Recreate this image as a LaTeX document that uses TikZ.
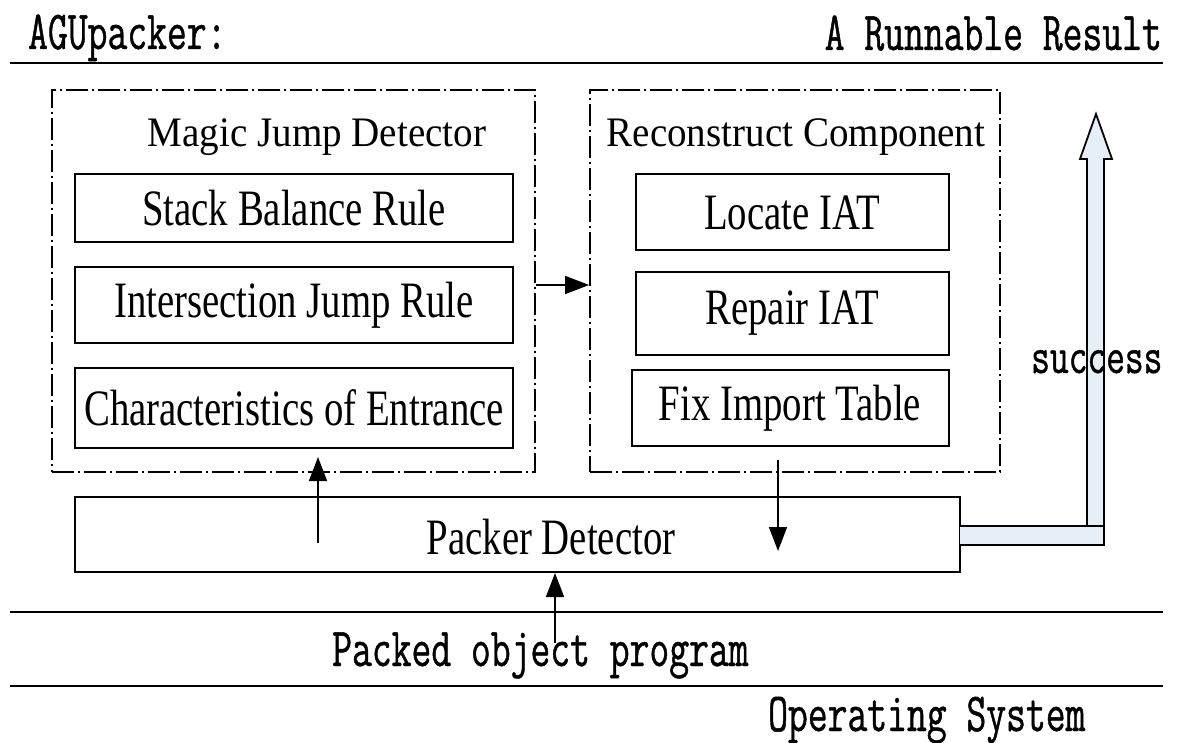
\documentclass[tikz,border=0pt]{standalone}
\usepackage{fontspec}
\usetikzlibrary{arrows.meta}
\setmonofont{Latin Modern Mono}[FakeStretch=0.70,FakeBold=0.8]
\newfontfamily\boxfont[FakeStretch=0.76]{Liberation Serif}
\newfontfamily\titlefont[FakeStretch=0.93]{Liberation Serif}
\definecolor{pipe}{RGB}{230,238,248}

\tikzset{
  rulebox/.style={draw, line width=2pt, inner sep=0pt,
    font=\boxfont\fontsize{51}{51}\selectfont},
  groupbox/.style={draw, line width=1.8pt,
    dash pattern=on 22pt off 4pt on 2pt off 4pt, inner sep=0pt},
  grouptitle/.style={font=\titlefont\fontsize{42}{42}\selectfont,
    inner sep=0pt, anchor=base},
  layertext/.style={font=\ttfamily\fontsize{55}{55}\selectfont, inner sep=0pt},
  layerline/.style={line width=2.6pt},
  flow/.style={line width=1.6pt, -{Triangle[length=24pt,width=18pt]}},
}

\begin{document}
\begin{tikzpicture}[x=1pt,y=-1pt]
\useasboundingbox (0,0) rectangle (1181,743);

% layer separators
\draw[layerline] (10,63) -- (1163,63);
\draw[layerline] (10,612) -- (1163,612);
\draw[layerline] (10,686) -- (1163,686);

% layer captions
\node[layertext, anchor=base west] (agu) at (28,49) {AGUpacker:};
\node[layertext, anchor=base east] (result) at (1162,50) {A Runnable Result};
\node[layertext, anchor=base west] (packed) at (332,666) {Packed object program};
\node[layertext, anchor=base west] (os) at (768,731) {Operating System};

% magic jump detector
\node[groupbox, minimum width=483pt, minimum height=382pt] (mjd) at (293.5,281) {};
\node[grouptitle] (mjdtitle) at (317,147) {Magic Jump Detector};
\node[rulebox, minimum width=438pt, minimum height=68pt] (sbr) at (294,208.5) {Stack Balance Rule};
\node[rulebox, minimum width=438pt, minimum height=76pt] (ijr) at (294,305) {Intersection Jump Rule};
\node[rulebox, minimum width=438pt, minimum height=80pt] (coe) at (294,408) {Characteristics of Entrance};

% reconstruct component
\node[groupbox, minimum width=410pt, minimum height=382pt] (rc) at (795,281) {};
\node[grouptitle] (rctitle) at (796,147) {Reconstruct Component};
\node[rulebox, minimum width=313pt, minimum height=76pt] (liat) at (792,212.5) {Locate IAT};
\node[rulebox, minimum width=313pt, minimum height=83pt] (riat) at (792,313.5) {Repair IAT};
\node[rulebox, minimum width=317pt, minimum height=76pt] (fit) at (790,408) {Fix Import Table};

% packer detector
\node[rulebox, minimum width=885pt, minimum height=75pt] (pd) at (517.5,534.5) {};
\node[inner sep=0pt, font=\boxfont\fontsize{51}{51}\selectfont] (pdtext) at (551,537) {Packer Detector};

% control flow
\coordinate (mid) at (0,285);
\draw[flow] (mjd.east |- mid) -- (rc.west |- mid);
\coordinate (upfrom) at (318,543);
\coordinate (upto) at (318,457);
\draw[flow] (upfrom) -- (upto);
\coordinate (downfrom) at (778,460);
\coordinate (downto) at (778,551);
\draw[flow] (downfrom) -- (downto);
\coordinate (infrom) at (555,643);
\draw[flow] (infrom) -- (infrom |- pd.south);

% success pipe
\fill[pipe] (960,526) -- (1087,526) -- (1087,159) -- (1080,159) -- (1096,114)
  -- (1112,159) -- (1104,159) -- (1104,545) -- (960,545) -- cycle;
\draw[line width=1.8pt, line join=miter] (960,526) -- (1087,526) -- (1087,159) -- (1080,159)
  -- (1096,114) -- (1112,159) -- (1104,159) -- (1104,545) -- (960,545);
\draw[line width=1.6pt] (1087,526) -- (1104,526);
\node[layertext, anchor=base west, font=\ttfamily\fontsize{52}{52}\selectfont] (succ) at (1031,373) {success};
\end{tikzpicture}
\end{document}
